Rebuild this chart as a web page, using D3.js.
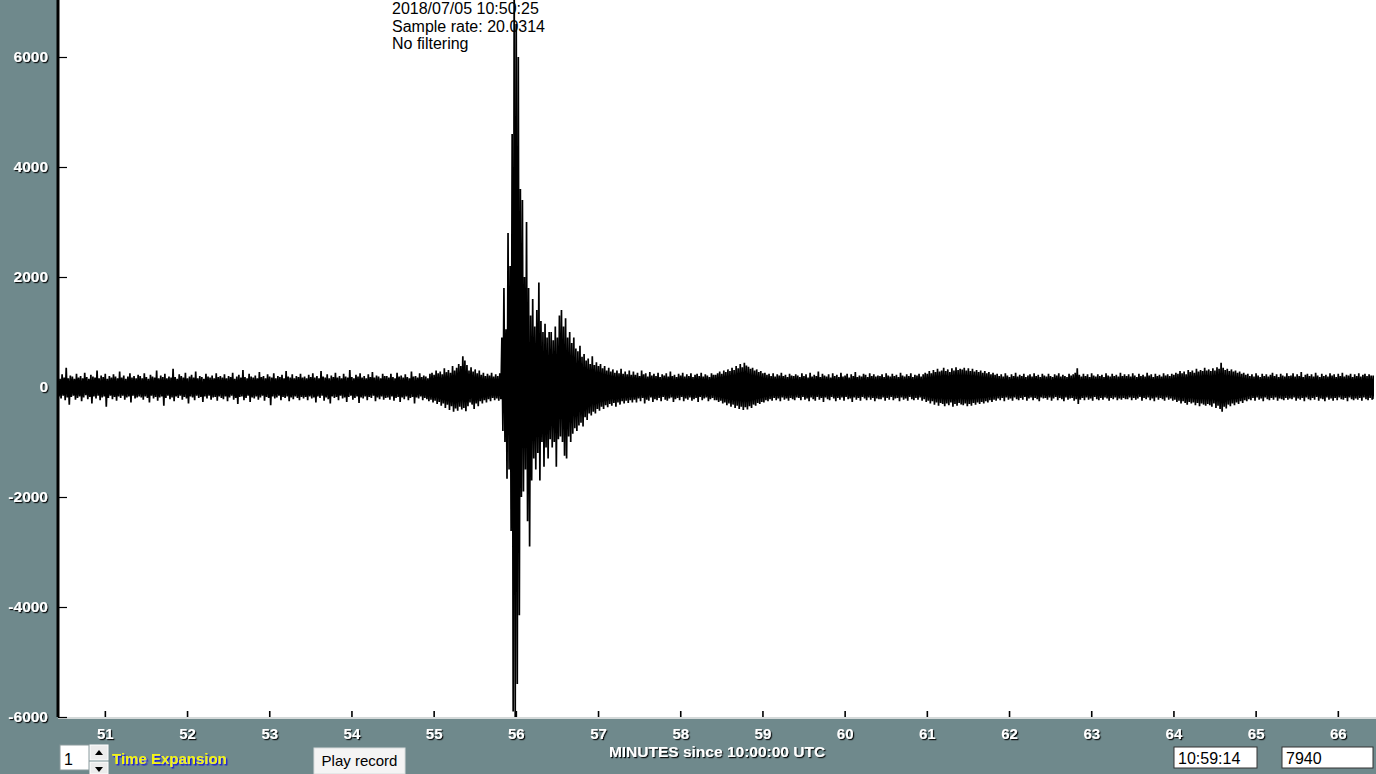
<!DOCTYPE html>
<html>
<head>
<meta charset="utf-8">
<script src="https://cdn.jsdelivr.net/npm/d3@7/dist/d3.min.js"></script>
<style>
  html, body { margin: 0; padding: 0; background: #6f898c; }
  svg { display: block; font-family: "Liberation Sans", Arial, sans-serif; }
</style>
</head>
<body>
<svg id="chart" width="1376" height="774"></svg>
<script>
// ---------- data ----------
const headerLines = ["2018/07/05 10:50:25", "Sample rate: 20.0314", "No filtering"];
const xTickValues = [51, 52, 53, 54, 55, 56, 57, 58, 59, 60, 61, 62, 63, 64, 65, 66];
const yTickValues = [-6000, -4000, -2000, 0, 2000, 4000, 6000];
const xAxisTitle = "MINUTES since 10:00:00 UTC";
const sampleStart = 50.43;   // minute of first envelope bin
const sampleStep = 0.025;    // minutes per envelope bin
// upper extreme (counts) per bin, one row per minute
const peakHi = [
  180,150,230,170,350,160,210,190,150,240,170,200,160,260,180,150,220,190,170,300,160,210,180,240,150,200,170,230,190,160,280,170,210,150,190,250,170,200,160,220,
  200,160,250,180,150,220,190,170,300,160,210,180,240,160,190,170,330,180,150,230,200,170,260,160,190,220,170,280,160,200,180,150,240,190,170,210,160,250,180,200,
  170,230,160,200,180,260,150,190,220,170,310,180,160,240,190,170,210,160,270,180,200,160,230,190,170,250,160,200,180,220,160,290,190,170,230,160,200,180,240,170,
  190,160,220,180,250,170,200,160,290,190,170,230,160,210,180,260,170,200,160,240,190,170,310,180,160,220,190,250,170,200,160,230,180,270,170,210,190,160,240,200,
  200,170,240,180,160,260,190,210,170,230,180,160,280,190,200,170,250,180,210,190,160,240,260,220,300,250,280,230,340,270,310,260,380,300,350,420,380,560,480,400,
  300,360,280,320,250,300,220,260,200,240,210,260,190,230,200,250,900,1800,1050,2800,2200,4600,7600,6600,6000,3600,3400,2000,3000,1800,1300,1600,1100,1400,1900,1200,1000,1150,900,1000,
  1000,850,1100,900,1300,1400,1100,1250,900,1000,800,900,700,650,750,550,600,480,520,420,560,400,450,380,420,340,380,300,350,280,320,260,300,250,330,240,280,230,300,220,
  280,220,260,200,300,230,250,190,270,210,240,200,260,180,230,210,250,190,280,200,220,180,240,210,260,190,230,200,250,180,220,240,200,260,190,230,210,180,250,220,
  220,250,280,240,300,270,320,290,350,310,380,340,420,360,440,390,370,330,350,300,320,270,290,250,260,220,240,200,250,190,230,210,260,200,220,180,240,210,200,230,
  210,180,250,200,230,170,260,190,220,200,280,180,240,210,190,230,170,250,200,220,180,260,190,210,240,170,230,200,270,180,210,190,240,220,180,250,200,230,190,210,
  200,230,180,250,210,190,240,200,220,180,260,210,190,230,200,250,180,220,210,240,190,230,260,240,290,250,310,270,330,280,300,350,290,320,270,340,300,360,310,330,
  320,350,300,340,290,330,280,310,270,300,260,290,250,270,230,260,220,240,200,230,190,250,210,180,230,200,260,190,220,200,240,180,210,230,190,250,200,220,180,240,
  210,190,240,200,180,230,210,250,190,220,200,180,240,210,230,260,340,220,190,240,200,230,180,250,210,190,230,200,220,180,250,210,190,240,200,220,190,260,200,230,
  200,230,190,250,210,180,240,200,220,190,260,210,230,180,240,200,220,190,250,210,230,200,240,220,260,240,290,250,280,230,310,270,300,260,330,280,310,290,350,300,
  320,290,340,300,360,330,440,350,310,330,290,320,280,300,260,280,240,260,220,240,200,230,190,250,210,180,240,200,230,190,220,260,200,230,180,240,210,190,250,200,
  210,250,190,230,200,270,180,220,240,200,230,190,260,210,180,240,200,220,190,250,210,230,180,240,200,260,190,220,210,240,180,230,200,250,190,220,240,200,230,210,
  210
];
// lower extreme (counts) per bin, one row per minute
const peakLo = [
  -170,-210,-160,-240,-190,-320,-180,-160,-230,-200,-170,-260,-190,-150,-220,-180,-300,-170,-210,-160,-240,-190,-170,-360,-200,-160,-220,-180,-250,-170,-200,-160,-230,-190,-170,-280,-160,-210,-190,-170,
  -190,-230,-170,-200,-280,-160,-210,-180,-250,-190,-170,-340,-200,-160,-220,-190,-260,-170,-200,-160,-230,-180,-210,-300,-170,-190,-240,-160,-200,-180,-270,-170,-210,-160,-230,-190,-180,-250,-170,-200,
  -220,-170,-260,-190,-160,-230,-200,-310,-180,-170,-240,-200,-160,-270,-190,-210,-170,-230,-190,-160,-250,-180,-200,-330,-170,-210,-190,-160,-240,-180,-200,-170,-260,-190,-220,-170,-200,-240,-180,-210,
  -180,-240,-170,-210,-190,-280,-170,-200,-160,-250,-190,-220,-300,-170,-200,-180,-240,-160,-210,-190,-270,-180,-160,-230,-200,-170,-290,-190,-210,-170,-240,-180,-200,-160,-260,-190,-220,-170,-230,-200,
  -190,-230,-170,-250,-200,-180,-270,-190,-220,-170,-240,-200,-180,-300,-190,-210,-170,-240,-200,-220,-260,-230,-280,-250,-310,-270,-340,-300,-380,-320,-420,-350,-450,-390,-430,-360,-410,-380,-440,-350,
  -280,-320,-400,-300,-350,-260,-300,-240,-280,-220,-260,-200,-240,-210,-250,-220,-800,-1000,-1670,-1500,-2620,-5900,-6000,-5400,-4150,-2000,-1900,-1500,-2440,-2900,-1700,-1300,-1500,-1200,-1700,-1000,-1450,-1100,-1300,-950,
  -1100,-1000,-1450,-950,-900,-1000,-1250,-1300,-900,-1000,-850,-750,-800,-700,-650,-720,-550,-600,-480,-520,-450,-480,-400,-430,-360,-400,-330,-370,-310,-340,-290,-360,-280,-320,-260,-300,-250,-290,-240,-280,
  -230,-280,-210,-260,-200,-300,-230,-250,-190,-270,-220,-240,-200,-260,-180,-230,-250,-210,-190,-270,-220,-200,-240,-180,-260,-210,-230,-190,-250,-220,-200,-270,-180,-240,-210,-190,-260,-220,-200,-240,
  -240,-270,-250,-300,-280,-330,-300,-360,-320,-380,-340,-400,-360,-420,-370,-410,-350,-380,-320,-340,-290,-310,-270,-280,-240,-260,-220,-250,-200,-240,-210,-260,-190,-230,-210,-250,-200,-220,-240,-190,
  -200,-240,-180,-230,-210,-260,-190,-220,-250,-180,-230,-200,-270,-190,-220,-240,-180,-210,-260,-200,-230,-190,-250,-180,-220,-210,-270,-190,-230,-200,-250,-180,-210,-240,-190,-230,-200,-260,-210,-220,
  -220,-190,-250,-200,-230,-180,-240,-210,-200,-260,-190,-230,-210,-250,-180,-220,-240,-200,-230,-190,-250,-220,-270,-250,-300,-260,-320,-280,-340,-290,-310,-350,-300,-330,-280,-360,-310,-340,-290,-320,
  -330,-300,-350,-310,-340,-290,-320,-280,-310,-270,-300,-260,-280,-240,-270,-230,-250,-210,-240,-200,-260,-190,-230,-210,-250,-190,-220,-240,-200,-230,-180,-250,-210,-190,-240,-200,-220,-260,-190,-210,
  -200,-230,-190,-250,-210,-180,-240,-200,-220,-260,-190,-230,-210,-200,-250,-220,-310,-230,-200,-240,-190,-230,-210,-250,-180,-220,-240,-200,-230,-190,-210,-250,-200,-220,-190,-240,-210,-230,-200,-220,
  -220,-190,-240,-200,-230,-210,-180,-250,-200,-220,-190,-240,-210,-260,-190,-230,-200,-220,-250,-190,-230,-210,-250,-230,-270,-250,-300,-260,-290,-320,-270,-300,-280,-330,-290,-350,-300,-320,-340,-310,
  -330,-360,-300,-380,-340,-400,-450,-360,-390,-320,-350,-300,-330,-280,-310,-260,-290,-240,-260,-220,-240,-200,-250,-190,-230,-210,-260,-190,-220,-240,-200,-230,-190,-250,-210,-220,-240,-200,-230,-210,
  -220,-190,-250,-210,-230,-200,-260,-190,-220,-240,-200,-230,-180,-250,-210,-220,-260,-190,-230,-210,-250,-200,-240,-190,-220,-230,-200,-260,-190,-220,-240,-210,-230,-200,-250,-190,-220,-240,-200,-230,
  -220
];
const controls = { expansion: "1", expansionLabel: "Time Expansion", play: "Play record", clock: "10:59:14", counter: "7940" };

// ---------- layout ----------
const W = 1376, H = 774;
const plot = { left: 58, right: 1374, top: 0, bottom: 717 };
const svg = d3.select("#chart");

const defs = svg.append("defs");
const sh = defs.append("filter").attr("id", "shadow").attr("x", "-10%").attr("y", "-20%").attr("width", "130%").attr("height", "150%");
sh.append("feDropShadow").attr("dx", 1.2).attr("dy", 1.2).attr("stdDeviation", 0.4).attr("flood-color", "#000").attr("flood-opacity", 0.9);
const shB = defs.append("filter").attr("id", "shadowBlue").attr("x", "-10%").attr("y", "-20%").attr("width", "130%").attr("height", "150%");
shB.append("feDropShadow").attr("dx", 1.5).attr("dy", 1.5).attr("stdDeviation", 0.5).attr("flood-color", "#1a1ad0").attr("flood-opacity", 1);
defs.append("clipPath").attr("id", "plotClip").append("rect")
  .attr("x", plot.left + 1).attr("y", plot.top).attr("width", plot.right - plot.left - 1).attr("height", plot.bottom - plot.top);

svg.append("rect").attr("width", W).attr("height", H).attr("fill", "#6f898c");
svg.append("rect").attr("x", plot.left).attr("y", plot.top)
  .attr("width", W - plot.left).attr("height", plot.bottom - plot.top).attr("fill", "#ffffff");
svg.append("line").attr("x1", plot.left).attr("x2", W).attr("y1", plot.bottom + 1).attr("y2", plot.bottom + 1)
  .attr("stroke", "#d4d9d9").attr("stroke-width", 2);

const x = d3.scaleLinear().domain([50.43, 66.44]).range([plot.left, plot.right]);
const y = d3.scaleLinear().domain([-6000, 6000]).range([717, 57]);

// trace: each bin contributes its upper then its lower extreme
const pts = [];
peakHi.forEach((h, i) => {
  const t = sampleStart + i * sampleStep;
  pts.push([t, h]);
  pts.push([t + sampleStep / 2, peakLo[i]]);
});
const line = d3.line().x(d => x(d[0])).y(d => y(d[1]));
svg.append("g").attr("clip-path", "url(#plotClip)")
  .append("path").datum(pts).attr("d", line)
  .attr("fill", "none").attr("stroke", "#000").attr("stroke-width", 1.7).attr("stroke-linejoin", "bevel");

// y axis
const yAxis = d3.axisLeft(y).tickValues(yTickValues).tickSize(-9).tickPadding(10).tickFormat(d => String(d));
const gy = svg.append("g").attr("transform", `translate(${plot.left},0)`).call(yAxis);
gy.select(".domain").remove();
gy.selectAll(".tick line").attr("stroke", "#000").attr("stroke-width", 1.2);
gy.selectAll(".tick text").attr("fill", "#fff").attr("font-size", 15.5).attr("font-weight", "bold")
  .attr("font-family", "'Liberation Sans', Arial, sans-serif").attr("filter", "url(#shadow)");
svg.append("line").attr("x1", plot.left).attr("x2", plot.left).attr("y1", 0).attr("y2", plot.bottom)
  .attr("stroke", "#000").attr("stroke-width", 3);

// x axis
const xAxis = d3.axisBottom(x).tickValues(xTickValues).tickSize(-6).tickPadding(11).tickFormat(d => String(d));
const gx = svg.append("g").attr("transform", `translate(0,${plot.bottom})`).call(xAxis);
gx.select(".domain").remove();
gx.selectAll(".tick line").attr("stroke", "#000").attr("stroke-width", 1.6);
gx.selectAll(".tick text").attr("fill", "#fff").attr("font-size", 15).attr("font-weight", "bold")
  .attr("font-family", "'Liberation Sans', Arial, sans-serif").attr("filter", "url(#shadow)");

svg.append("text").attr("x", 717).attr("y", 757).attr("text-anchor", "middle")
  .attr("fill", "#fff").attr("font-size", 15.5).attr("font-weight", "bold").attr("filter", "url(#shadow)")
  .text(xAxisTitle);

// header text
svg.append("g").selectAll("text").data(headerLines).join("text")
  .attr("x", 392).attr("y", (d, i) => 14 + i * 17.5)
  .attr("font-size", 16).attr("fill", "#000").text(d => d);

// ---------- bottom controls ----------
const ctl = svg.append("g");
ctl.append("rect").attr("x", 60).attr("y", 745).attr("width", 29).attr("height", 25).attr("fill", "#fff")
  .attr("stroke", "#8a9a9c").attr("stroke-width", 1);
ctl.append("text").attr("x", 64).attr("y", 765).attr("font-size", 16).attr("fill", "#000").text(controls.expansion);
ctl.append("rect").attr("x", 90).attr("y", 745).attr("width", 18).attr("height", 15).attr("fill", "#ececec").attr("stroke", "#fff");
ctl.append("rect").attr("x", 90).attr("y", 762).attr("width", 18).attr("height", 12).attr("fill", "#ececec").attr("stroke", "#fff");
ctl.append("path").attr("d", "M95,755 L99,750 L103,755 Z").attr("fill", "#000");
ctl.append("path").attr("d", "M95,767 L99,772 L103,767 Z").attr("fill", "#000");
ctl.append("text").attr("x", 112).attr("y", 764).attr("font-size", 15).attr("font-weight", "bold")
  .attr("fill", "#f4f40a").attr("filter", "url(#shadowBlue)").text(controls.expansionLabel);
ctl.append("rect").attr("x", 314).attr("y", 748).attr("width", 91).attr("height", 26).attr("fill", "#f4f4f4")
  .attr("stroke", "#d8dcdc").attr("stroke-width", 1);
ctl.append("text").attr("x", 359.5).attr("y", 766).attr("text-anchor", "middle").attr("font-size", 15)
  .attr("fill", "#000").text(controls.play);
[[1174, 83, controls.clock], [1282, 91, controls.counter]].forEach(([bx, bw, label]) => {
  ctl.append("rect").attr("x", bx).attr("y", 747).attr("width", bw).attr("height", 21).attr("fill", "#fff")
    .attr("stroke", "#333").attr("stroke-width", 1);
  ctl.append("text").attr("x", bx + 4).attr("y", 764).attr("font-size", 16).attr("fill", "#000").text(label);
});
</script>
</body>
</html>
